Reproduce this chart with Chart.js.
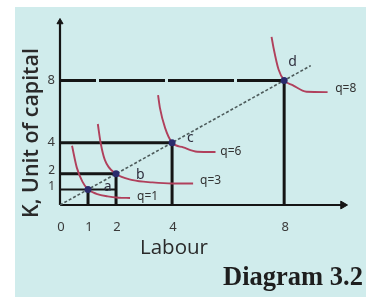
<!DOCTYPE html>
<html><head><meta charset="utf-8">
<script src="https://cdn.jsdelivr.net/npm/chart.js@4"></script>
<style>html,body{margin:0;padding:0;background:#fff;overflow:hidden}canvas{display:block}</style>
</head><body>
<canvas id="c" width="366" height="297"></canvas>
<script>
// ---- data ----
const xTickValues = [0, 1, 2, 4, 8];
const yTickValues = [1, 2, 4, 8];
const pointNames = ['a', 'b', 'c', 'd'];
const pointLabour = [1, 2, 4, 8];
const pointCapital = [1, 2, 4, 8];
const guideHEnd = [2, 2, 4, 8];
const rayX = [0, 8.95];
const rayY = [0, 8.95];
const q1X = [0.43, 0.6, 0.8, 1.0, 1.3, 1.7, 2.1, 2.5];
const q1Y = [3.8, 2.4, 1.5, 1.0, 0.72, 0.55, 0.47, 0.45];
const q3X = [1.35, 1.45, 1.6, 2.0, 2.6, 3.3, 4.0, 4.75];
const q3Y = [5.2, 4.0, 2.9, 2.0, 1.6, 1.45, 1.38, 1.38];
const q6X = [3.5, 3.57, 3.75, 4.0, 4.4, 4.9, 5.55];
const q6Y = [7.05, 6.2, 4.95, 4.0, 3.7, 3.42, 3.4];
const q8X = [7.55, 7.62, 7.8, 8.0, 8.3, 8.8, 9.55];
const q8Y = [10.8, 10.1, 8.7, 8.0, 7.7, 7.27, 7.25];
const isoNames = ['q=1', 'q=3', 'q=6', 'q=8'];
const isoLabelX = [2.75, 5.0, 5.72, 9.82];
const isoLabelY = [0.55, 1.6, 3.4, 7.45];
const pointLabelX = [1.7, 2.87, 4.65, 8.3];
const pointLabelY = [1.15, 1.95, 4.3, 9.2];
const xMax = 10.1, yMax = 11.75;

const zip = (xs, ys) => xs.map((x, i) => ({x, y: ys[i]}));
const INK = '#151515';
const CURVE = '#b0405c';

const datasets = [];
// dots
datasets.push({data: zip(pointLabour, pointCapital), showLine: false, pointRadius: 3.5,
  pointBackgroundColor: '#2b2b6c', pointBorderColor: '#2b2b6c', borderWidth: 0});
// isoquants
[[q1X, q1Y], [q3X, q3Y], [q6X, q6Y], [q8X, q8Y]].forEach(([xs, ys]) => {
  datasets.push({data: zip(xs, ys), showLine: true, borderColor: CURVE, borderWidth: 1.9,
    pointRadius: 0, cubicInterpolationMode: 'monotone', fill: false});
});
// ray
datasets.push({data: zip(rayX, rayY), showLine: true, borderColor: '#4d5b5b', borderWidth: 1.6,
  borderDash: [3, 2], pointRadius: 0});
// guide lines
pointLabour.forEach((v, i) => {
  const thin = v === 1;
  datasets.push({data: [{x: v, y: 0}, {x: v, y: pointCapital[i]}], showLine: true,
    borderColor: INK, borderWidth: 3, pointRadius: 0});
  datasets.push({data: [{x: 0, y: pointCapital[i]}, {x: guideHEnd[i], y: pointCapital[i]}], showLine: true,
    borderColor: INK, borderWidth: thin ? 2 : 3, pointRadius: 0,
    borderDash: v === 8 ? [66, 3] : [], borderDashOffset: v === 8 ? 30 : 0});
});
// axes
datasets.push({data: [{x: 0, y: 0}, {x: xMax, y: 0}], showLine: true, borderColor: INK, borderWidth: 2.2, pointRadius: 0});
datasets.push({data: [{x: 0, y: 0}, {x: 0, y: yMax}], showLine: true, borderColor: INK, borderWidth: 2.2, pointRadius: 0});
datasets.push({data: [{x: xMax, y: 0}], showLine: false, pointStyle: 'triangle', rotation: 90, pointRadius: 4.5,
  pointBackgroundColor: INK, pointBorderColor: INK});
datasets.push({data: [{x: 0, y: yMax}], showLine: false, pointStyle: 'triangle', rotation: 0, pointRadius: 3.5,
  pointBackgroundColor: INK, pointBorderColor: INK});
datasets.forEach(d => d.clip = false);

function fitFont(ctx, text, family, weight, width) {
  ctx.font = `${weight} 20px ${family}`;
  return 20 * width / ctx.measureText(text).width;
}

const deco = {
  id: 'deco',
  beforeDraw(chart) {
    const ctx = chart.ctx;
    ctx.save();
    ctx.fillStyle = '#ffffff';
    ctx.fillRect(0, 0, chart.width, chart.height);
    ctx.fillStyle = '#d0ecec';
    ctx.fillRect(15, 7, chart.width - 15, chart.height - 7);
    ctx.restore();
  },
  afterDraw(chart) {
    const ctx = chart.ctx, xs = chart.scales.x, ys = chart.scales.y;
    ctx.save();
    ctx.fillStyle = '#3a3a3a';
    ctx.textBaseline = 'middle';
    ctx.font = '13px "Noto Sans"';
    ctx.textAlign = 'center';
    xTickValues.forEach(v => ctx.fillText(String(v), xs.getPixelForValue(v) + 1, ys.getPixelForValue(0) + 22));
    ctx.textAlign = 'right';
    yTickValues.forEach(v => {
      ctx.font = v < 4 ? '12px "Noto Sans"' : '13px "Noto Sans"';
      ctx.fillText(String(v), xs.getPixelForValue(0) - 5, ys.getPixelForValue(v) - (v < 4 ? 3 : 0));
    });
    // point labels
    ctx.textAlign = 'center';
    ctx.fillStyle = '#2e2e3e';
    ctx.font = '14px "Noto Sans"';
    pointNames.forEach((n, i) => ctx.fillText(n, xs.getPixelForValue(pointLabelX[i]), ys.getPixelForValue(pointLabelY[i])));
    // isoquant labels
    ctx.textAlign = 'left';
    ctx.font = '12px "Noto Sans"';
    ctx.fillStyle = '#333';
    isoNames.forEach((n, i) => {
      const px = xs.getPixelForValue(isoLabelX[i]), py = ys.getPixelForValue(isoLabelY[i]);
      ctx.fillText(n, px, py);
    });
    // axis titles
    ctx.fillStyle = '#2a2a2a';
    ctx.textAlign = 'center';
    let s = fitFont(ctx, 'Labour', '"Open Sans"', 'normal', 68);
    ctx.font = `normal ${s}px "Open Sans"`;
    ctx.fillText('Labour', 174, 248);
    s = fitFont(ctx, 'K, Unit of capital', '"Open Sans"', '600', 170);
    ctx.font = `600 ${s}px "Open Sans"`;
    ctx.save();
    ctx.translate(32, 133);
    ctx.rotate(-Math.PI / 2);
    ctx.fillText('K, Unit of capital', 0, 0);
    ctx.restore();
    ctx.fillStyle = '#1e1e1e';
    s = fitFont(ctx, 'Diagram 3.2', '"Liberation Serif"', 'bold', 140);
    ctx.font = `bold ${s}px "Liberation Serif"`;
    ctx.fillText('Diagram 3.2', 293, 278);
    ctx.restore();
  }
};

new Chart(document.getElementById('c'), {
  type: 'scatter',
  data: {datasets},
  options: {
    responsive: false, animation: false, devicePixelRatio: 1,
    layout: {padding: {left: 60, right: 23, top: 22, bottom: 92}},
    plugins: {legend: {display: false}, tooltip: {enabled: false}},
    scales: {
      x: {type: 'linear', min: 0, max: xMax, display: false},
      y: {type: 'linear', min: 0, max: yMax, display: false}
    }
  },
  plugins: [deco]
});
</script>
</body></html>
